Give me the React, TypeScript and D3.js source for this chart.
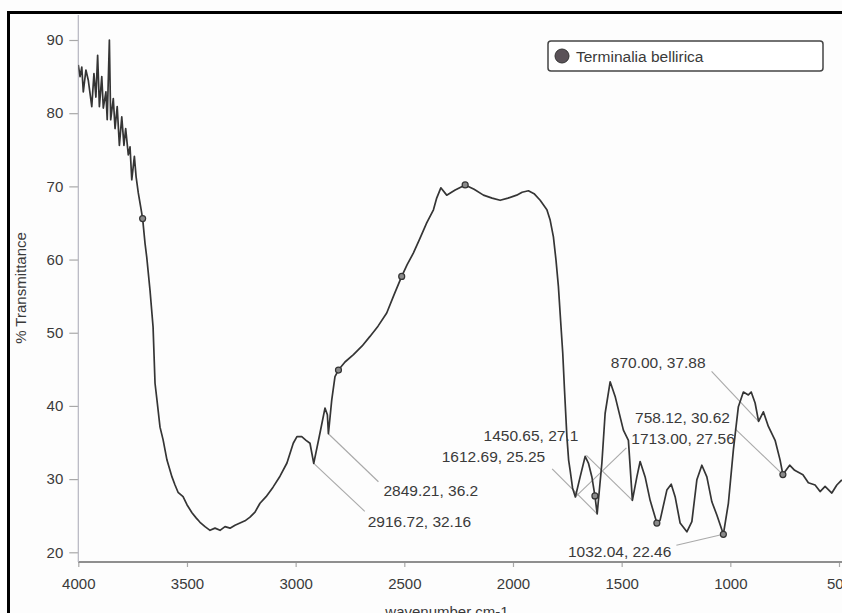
import React, { useEffect, useRef } from "react";
import * as d3 from "d3";

// FTIR spectrum (wavenumber in cm-1, % transmittance)
const wavenumber = [
  4000, 3992, 3984, 3977, 3965, 3954, 3938, 3928, 3919, 3911, 3903, 3892, 3885, 3873, 3867, 3857,
  3851, 3839, 3831, 3821, 3811, 3800, 3790, 3782, 3770, 3762, 3754, 3742, 3734, 3724, 3713, 3704,
  3693, 3685, 3670, 3656, 3647, 3638, 3624, 3610, 3592, 3569, 3555, 3541, 3518, 3500, 3477, 3458,
  3440, 3417, 3394, 3371, 3348, 3325, 3302, 3279, 3256, 3233, 3210, 3187, 3164, 3136, 3104, 3072,
  3040, 3011, 2994, 2972, 2952, 2934, 2916.72, 2888, 2865, 2854, 2849.21, 2834, 2819, 2803, 2773,
  2734, 2694, 2658, 2621, 2581, 2547, 2512, 2487, 2458, 2428, 2397, 2366, 2351, 2332, 2305, 2266,
  2220, 2179, 2136, 2096, 2059, 2023, 1983, 1958, 1929, 1903, 1875, 1844, 1829, 1814, 1802, 1791,
  1781, 1771, 1763, 1752, 1744, 1737, 1726, 1713, 1691, 1668, 1653, 1637, 1623, 1612.69, 1591,
  1576, 1553, 1530, 1507, 1492, 1469, 1450.65, 1430, 1415, 1392, 1369, 1338, 1323, 1292, 1272,
  1254, 1231, 1200, 1177, 1154, 1131, 1108, 1085, 1062, 1032.04, 1009, 986, 963, 940, 917, 904,
  886, 870, 848, 825, 794, 771, 758.12, 727, 704, 666, 641, 610, 587, 564, 533, 510, 487,
];
const transmittance = [
  86.6, 85.0, 86.3, 82.9, 85.9, 84.5, 80.9, 85.4, 82.2, 87.9, 80.9, 85.0, 80.7, 82.9, 79.1, 90.0,
  79.1, 82.0, 77.9, 80.9, 75.6, 79.5, 75.6, 77.9, 74.3, 75.4, 70.9, 74.1, 71.3, 69.1, 67.2, 65.6,
  62.2, 60.3, 55.8, 50.8, 43.1, 40.8, 37.1, 35.4, 32.6, 30.3, 29.2, 28.2, 27.6, 26.5, 25.4, 24.7,
  24.1, 23.5, 23.0, 23.3, 23.0, 23.5, 23.3, 23.7, 24.0, 24.3, 24.8, 25.5, 26.7, 27.6, 28.9, 30.4,
  32.2, 34.9, 35.8, 35.8, 35.3, 34.9, 32.16, 36.3, 39.7, 38.8, 36.2, 40.8, 44.0, 44.9, 46.0,
  47.0, 48.2, 49.5, 50.9, 52.7, 55.2, 57.7, 59.3, 60.9, 62.9, 65.0, 66.8, 68.4, 69.8, 68.8, 69.5,
  70.2, 69.6, 68.8, 68.4, 68.1, 68.4, 68.8, 69.2, 69.4, 69.0, 68.1, 66.8, 65.4, 63.1, 59.9, 56.3,
  51.7, 47.2, 42.2, 35.8, 32.6, 31.2, 28.8, 27.56, 30.3, 33.1, 32.2, 30.3, 27.7, 25.25, 32.2,
  39.0, 43.3, 41.3, 38.5, 36.7, 35.3, 27.1, 30.3, 32.4, 30.3, 27.1, 24.0, 24.4, 28.5, 29.3,
  27.6, 24.0, 22.8, 24.2, 29.9, 31.9, 30.3, 26.9, 25.1, 22.46, 26.7, 34.0, 39.9, 41.9, 41.5, 41.9,
  40.4, 37.88, 39.2, 37.2, 35.3, 32.6, 30.62, 31.9, 31.2, 30.6, 29.5, 29.2, 28.3, 29.0, 28.1, 29.2, 29.9,
];

// small open circles that the instrument software left on the trace
const markerWavenumbers = [3704, 2803, 2512, 2220, 1623, 1338, 1032.04, 758.12];

// labelled peaks
const peakWavenumbers = [2916.72, 2849.21, 1612.69, 1450.65, 1713.0, 758.12, 870.0, 1032.04];
const peakTransmittance = [32.16, 36.2, 25.25, 27.1, 27.56, 30.62, 37.88, 22.46];
const peakLabels = [
  "2916.72, 32.16",
  "2849.21, 36.2",
  "1612.69, 25.25",
  "1450.65, 27.1",
  "1713.00, 27.56",
  "758.12, 30.62",
  "870.00, 37.88",
  "1032.04, 22.46",
];

const xTicks = [4000, 3500, 3000, 2500, 2000, 1500, 1000, 500];
const yTicks = [20, 30, 40, 50, 60, 70, 80, 90];
const seriesName = "Terminalia bellirica";

const W = 842;
const H = 613;
const FONT = "'Liberation Sans', Arial, sans-serif";
const TEXT = "#3a3a3a";

// where each peak label sits relative to its point: [leaderDx, leaderDy, textDx, textDy, anchor]
const labelPlacement: Array<[number, number, number, number, string]> = [
  [51, 48, 54, 64, "start"],
  [50, 48, 55, 62, "start"],
  [-45, -45, -52, -52, "end"],
  [-46, -45, -54, -59, "end"],
  [51, -49, 56, -53, "start"],
  [-48, -46, -53, -52, "end"],
  [-47, -50, -53, -53, "end"],
  [-47, 11, -52, 23, "end"],
];

const App: React.FC = () => {
  const svgRef = useRef<SVGSVGElement>(null);

  useEffect(() => {
    const svg = d3.select(svgRef.current);
    svg.selectAll("*").remove();

    const left = 78.3;
    const top = 15;
    const bottom = 562;

    const x = d3.scaleLinear().domain([4000, 500]).range([left, 839]);
    const y = d3
      .scaleLinear()
      .domain([20, 90])
      .range([552.3, 40]);

    svg.append("rect").attr("width", W).attr("height", H).attr("fill", "#fdfdfd");

    svg
      .append("defs")
      .append("clipPath")
      .attr("id", "plot-clip")
      .append("rect")
      .attr("x", left)
      .attr("y", top)
      .attr("width", W - left)
      .attr("height", bottom - top);

    // axes
    const xAxis = svg
      .append("g")
      .attr("transform", `translate(0,${bottom})`)
      .call(d3.axisBottom(x).tickValues(xTicks).tickSize(5).tickPadding(11).tickFormat(d3.format("d")));
    const yAxis = svg
      .append("g")
      .attr("transform", `translate(${left},0)`)
      .call(d3.axisLeft(y).tickValues(yTicks).tickSize(9).tickPadding(6).tickFormat(d3.format("d")));
    [xAxis, yAxis].forEach((g) => {
      g.select(".domain").remove();
      g.selectAll(".tick line").attr("stroke", "#a8a8a8").attr("stroke-width", 1.2);
      g.selectAll(".tick text")
        .attr("fill", TEXT)
        .style("font-family", FONT)
        .style("font-size", "15px");
    });

    svg
      .append("line")
      .attr("x1", left)
      .attr("x2", W)
      .attr("y1", bottom)
      .attr("y2", bottom)
      .attr("stroke", "#8f8f8f")
      .attr("stroke-width", 1.8);
    svg
      .append("line")
      .attr("x1", left)
      .attr("x2", left)
      .attr("y1", top)
      .attr("y2", bottom)
      .attr("stroke", "#b5b5c0")
      .attr("stroke-width", 1.2);

    // peak leaders
    const peaks = peakWavenumbers.map((w, i) => ({
      px: x(w),
      py: y(peakTransmittance[i]),
      label: peakLabels[i],
      place: labelPlacement[i],
    }));
    svg
      .append("g")
      .selectAll("line")
      .data(peaks)
      .join("line")
      .attr("x1", (d) => d.px)
      .attr("y1", (d) => d.py)
      .attr("x2", (d) => d.px + d.place[0])
      .attr("y2", (d) => d.py + d.place[1])
      .attr("stroke", "#a9a9a9")
      .attr("stroke-width", 1.1);

    // spectrum
    const points = wavenumber.map((w, i) => [w, transmittance[i]] as [number, number]);
    const line = d3
      .line<[number, number]>()
      .x((d) => x(d[0]))
      .y((d) => y(d[1]));
    svg
      .append("path")
      .datum(points)
      .attr("clip-path", "url(#plot-clip)")
      .attr("d", line)
      .attr("fill", "none")
      .attr("stroke", "#353535")
      .attr("stroke-width", 1.7)
      .attr("stroke-linejoin", "round");

    svg
      .append("g")
      .selectAll("circle")
      .data(markerWavenumbers)
      .join("circle")
      .attr("cx", (w) => x(w))
      .attr("cy", (w) => y(transmittance[wavenumber.indexOf(w)]))
      .attr("r", 3)
      .attr("fill", "#8a8a8a")
      .attr("stroke", "#333")
      .attr("stroke-width", 1.2);

    svg
      .append("g")
      .selectAll("text")
      .data(peaks)
      .join("text")
      .attr("x", (d) => d.px + d.place[2])
      .attr("y", (d) => d.py + d.place[3])
      .attr("text-anchor", (d) => d.place[4])
      .attr("fill", TEXT)
      .style("font-family", FONT)
      .style("font-size", "15.5px")
      .text((d) => d.label);

    // legend
    const legend = svg.append("g");
    legend
      .append("rect")
      .attr("x", 548)
      .attr("y", 41)
      .attr("width", 275)
      .attr("height", 30)
      .attr("rx", 3)
      .attr("fill", "#fff")
      .attr("stroke", "#444")
      .attr("stroke-width", 1.5);
    legend
      .append("circle")
      .attr("cx", 562)
      .attr("cy", 56)
      .attr("r", 7)
      .attr("fill", "#5a5258")
      .attr("stroke", "#333")
      .attr("stroke-width", 1);
    legend
      .append("text")
      .attr("x", 576)
      .attr("y", 61.5)
      .attr("fill", TEXT)
      .style("font-family", FONT)
      .style("font-size", "15.5px")
      .text(seriesName);

    // axis titles
    svg
      .append("text")
      .attr("transform", `translate(26,288) rotate(-90)`)
      .attr("text-anchor", "middle")
      .attr("fill", TEXT)
      .style("font-family", FONT)
      .style("font-size", "15px")
      .text("% Transmittance");
    svg
      .append("text")
      .attr("x", 447)
      .attr("y", 617)
      .attr("text-anchor", "middle")
      .attr("fill", TEXT)
      .style("font-family", FONT)
      .style("font-size", "15px")
      .text("wavenumber cm-1");

    // black frame of the scanned figure
    svg
      .append("path")
      .attr("d", `M8.5,${H} V12.5 H${W}`)
      .attr("fill", "none")
      .attr("stroke", "#000")
      .attr("stroke-width", 3);
  }, []);

  return (
    <svg
      ref={svgRef}
      width={W}
      height={H}
      style={{ position: "absolute", left: 0, top: 0, display: "block" }}
    />
  );
};

export default App;
